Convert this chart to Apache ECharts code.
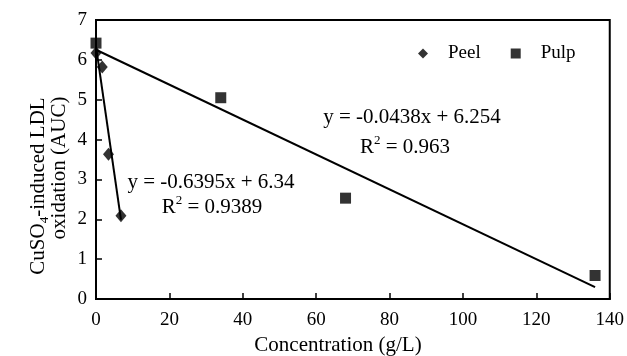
<!DOCTYPE html>
<html>
<head>
<meta charset="utf-8">
<script src="https://cdn.jsdelivr.net/npm/echarts@6/dist/echarts.min.js"></script>
<style>
  html, body { margin: 0; padding: 0; background: #fff; }
  #chart { width: 627px; height: 356px; }
</style>
</head>
<body>
<div id="chart"></div>
<script>
// values
const peelX = [0, 1.7, 3.4, 6.8];
const peelY = [6.17, 5.82, 3.63, 2.09];
const pulpX = [0, 34, 68, 136];
const pulpY = [6.42, 5.05, 2.53, 0.59];

// trendlines as printed on the chart
const peelFit = { slope: -0.6395, intercept: 6.34 };
const pulpFit = { slope: -0.0438, intercept: 6.254 };

const xTicks = [0, 20, 40, 60, 80, 100, 120, 140];
const yTicks = [0, 1, 2, 3, 4, 5, 6, 7];

const FONT = "'Liberation Serif', 'Times New Roman', serif";
const FS = 19;   // tick labels, legend
const TFS = 21;  // titles, equations

const toPairs = (xs, ys) => xs.map((x, i) => [x, ys[i]]);
const fitLine = (xs, fit) => {
  const x0 = Math.min(...xs), x1 = Math.max(...xs);
  return [[x0, fit.slope * x0 + fit.intercept], [x1, fit.slope * x1 + fit.intercept]];
};

const rich = {
  n: { fontFamily: FONT, fontSize: TFS, lineHeight: 26, verticalAlign: 'middle', color: '#000' },
  sup: { fontFamily: FONT, fontSize: 13, lineHeight: 15, verticalAlign: 'top', color: '#000' },
  sub: { fontFamily: FONT, fontSize: 13, lineHeight: 15, verticalAlign: 'bottom', color: '#000' }
};

const label = (text, x, y, rot) => ({
  type: 'text',
  x: x, y: y,
  rotation: rot || 0,
  style: {
    text: text,
    rich: rich,
    align: 'center',
    verticalAlign: 'middle',
    fill: '#000'
  }
});

const chart = echarts.init(document.getElementById('chart'), null, { renderer: 'canvas' });

chart.setOption({
  animation: false,
  backgroundColor: '#fff',
  textStyle: { fontFamily: FONT, color: '#000' },
  grid: {
    left: 96, right: 17, top: 20, bottom: 57,
    show: true, borderColor: '#000', borderWidth: 2
  },
  legend: {
    data: ['Peel', 'Pulp'],
    left: 413, top: 39,
    itemWidth: 10, itemHeight: 10, itemGap: 30,
    textStyle: { fontFamily: FONT, fontSize: FS, color: '#000', padding: [0, 0, 0, 15] }
  },
  xAxis: {
    type: 'value',
    min: xTicks[0], max: xTicks[xTicks.length - 1], interval: 20,
    axisLine: { show: true, lineStyle: { color: '#000', width: 2 } },
    axisTick: { show: true, inside: true, length: 6, lineStyle: { color: '#000', width: 1.5 } },
    axisLabel: { fontFamily: FONT, fontSize: FS, color: '#000', margin: 12 },
    splitLine: { show: false }
  },
  yAxis: {
    type: 'value',
    min: yTicks[0], max: yTicks[yTicks.length - 1], interval: 1,
    axisLine: { show: true, lineStyle: { color: '#000', width: 2 } },
    axisTick: { show: true, inside: true, length: 6, lineStyle: { color: '#000', width: 1.5 } },
    axisLabel: { fontFamily: FONT, fontSize: FS, color: '#000', margin: 9 },
    splitLine: { show: false }
  },
  graphic: [
    label('{n|Concentration (g/L)}', 338, 345),
    label('{n|CuSO}{sub|4}{n|-induced LDL}', 38, 186, Math.PI / 2),
    label('{n|oxidation (AUC)}', 59, 168, Math.PI / 2),
    label('{n|y = -0.0438x + 6.254}', 412, 117),
    label('{n|R}{sup|2}{n| = 0.963}', 405, 147),
    label('{n|y = -0.6395x + 6.34}', 211, 182),
    label('{n|R}{sup|2}{n| = 0.9389}', 212, 207)
  ],
  series: [
    {
      name: 'Peel', type: 'scatter', symbol: 'diamond', symbolSize: [11, 13],
      itemStyle: { color: '#000' }, z: 5,
      data: toPairs(peelX, peelY)
    },
    {
      name: 'Pulp', type: 'scatter', symbol: 'rect', symbolSize: 11,
      itemStyle: { color: '#000' }, z: 5,
      data: toPairs(pulpX, pulpY)
    },
    {
      name: 'Peel fit', type: 'line', showSymbol: false, symbol: 'none',
      lineStyle: { color: '#000', width: 2 }, silent: true,
      data: fitLine(peelX, peelFit)
    },
    {
      name: 'Pulp fit', type: 'line', showSymbol: false, symbol: 'none',
      lineStyle: { color: '#000', width: 2 }, silent: true,
      data: fitLine(pulpX, pulpFit)
    }
  ]
});

window.addEventListener('resize', () => chart.resize());
</script>
</body>
</html>
